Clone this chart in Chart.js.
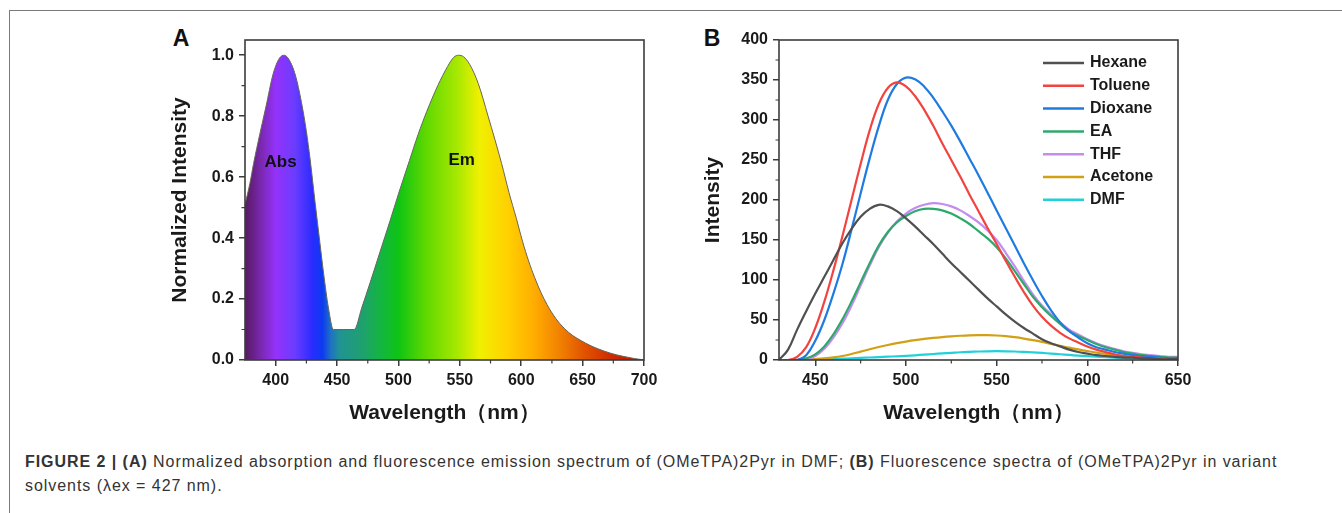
<!DOCTYPE html>
<html>
<head>
<meta charset="utf-8">
<script src="https://cdn.jsdelivr.net/npm/chart.js@4.4.0/dist/chart.umd.min.js"></script>
<style>
body{margin:0;background:#fff;width:1342px;height:513px;overflow:hidden;position:relative;font-family:"Liberation Sans",Arial,sans-serif}
.frameTop{position:absolute;left:9px;top:10px;right:0;height:0;border-top:1px solid #7a7a7a}
.frameLeft{position:absolute;left:9px;top:10px;bottom:0;width:0;border-left:1px solid #7a7a7a}
.panel{position:absolute;top:20px;width:520px;height:420px}
#boxA{left:150px}
#boxB{left:690px}
.letter{position:absolute;font:bold 23px "Liberation Sans",Arial,sans-serif;color:#111;transform:translate(-50%,-50%)}
.caption{position:absolute;left:25px;top:450px;font-size:16px;letter-spacing:0.95px;line-height:24px;color:#333;white-space:nowrap}
</style>
</head>
<body>
<div class="frameTop"></div>
<div class="frameLeft"></div>
<div class="letter" style="left:181px;top:38px">A</div>
<div class="letter" style="left:712px;top:38px">B</div>
<div class="panel" id="boxA"><canvas id="chartA" width="520" height="420"></canvas></div>
<div class="panel" id="boxB"><canvas id="chartB" width="520" height="420"></canvas></div>
<div class="caption"><b>FIGURE 2 | (A)</b> Normalized absorption and fluorescence emission spectrum of (OMeTPA)2Pyr in DMF; <b>(B)</b> Fluorescence spectra of (OMeTPA)2Pyr in variant<br>solvents (λex = 427 nm).</div>

<script>
//Datos panel A (absorcion + emision normalizadas)
const specWl = [375,379,382,387,392,398,403,407,411,416,421,425,428,432,436,439,443,447,455,464,470,477,485,493,500,509,516,523,532,540,545,549,553,558,565,573,584,590,596,601,606,611,616,621,628,635,642,649,656,663,673,683,692,700];
const specNorm = [0.51,0.58,0.645,0.74,0.83,0.94,0.99,1.0,0.985,0.935,0.845,0.75,0.66,0.52,0.385,0.285,0.17,0.10,0.10,0.10,0.17,0.255,0.355,0.455,0.545,0.655,0.74,0.815,0.90,0.963,0.993,1.0,0.995,0.97,0.907,0.80,0.645,0.55,0.465,0.39,0.325,0.27,0.222,0.182,0.137,0.104,0.08,0.063,0.048,0.036,0.022,0.012,0.005,0.0];
const bandNames = ['Abs', 'Em'];
const bandWl = [404, 551.5];
const bandY = [0.65, 0.655];
const xTicksA = [400,450,500,550,600,650,700];
const xMinorA = [425,475,525,575,625,675];
const yTicksA = [0,0.2,0.4,0.6,0.8,1.0];
const yMinorA = [0.1,0.3,0.5,0.7,0.9];

//Datos panel B (fluorescencia en solventes), cada 5 nm de 430 a 650
const solventes = ['Hexane','Toluene','Dioxane','EA','THF','Acetone','DMF'];
const flWl = [430,435,440,445,450,455,460,465,470,475,480,485,490,495,500,505,510,515,520,525,530,535,540,545,550,555,560,565,570,575,580,585,590,595,600,605,610,615,620,625,630,635,640,645,650];
const hexane  = [0,13,38,61,83, 104,125,146,164,179, 189,194,192,186,177, 167,156,145,133,121, 110,99,88,77,67, 57,48,40,33,26, 21,17,13,10,8, 6,5,4,3,3, 2,2,1,1,1];
const toluene = [0,0,4,16,40, 73,112,155,200,245, 287,320,340,347,342, 330,313,293,271,250, 229,207,186,165,145, 124,104,85,68,54, 43,34,27,22,17, 13,10,7,5,4, 3,2,2,1,1];
const dioxane = [0,0,0,6,24, 50,83,120,163,208, 252,292,325,345,353, 351,342,328,311,293, 273,252,231,209,187, 165,143,121,100,80, 62,47,36,28,21, 16,13,10,8,6, 5,4,3,2,2];
const ea      = [0,0,0,2,7, 17,32,51,73,97, 121,143,160,172,180, 186,189,189,187,183, 177,170,161,152,141, 127,111,95,79,66, 55,45,36,30,25, 20,16,13,10,8, 6,5,4,3,3];
const thf     = [0,0,0,1,5, 14,28,46,68,93, 118,141,159,173,183, 190,194,196,195,192, 187,180,172,162,150, 134,117,99,82,68, 57,47,38,32,26, 21,17,14,11,9, 7,6,5,4,4];
const acetone = [0,0,0.2,0.6,1.2, 2,3.2,5,7.5,10.5, 13.5,16.3,18.8,21,23, 24.8,26.3,27.6,28.7,29.6, 30.3,30.8,31,31,30.6, 29.8,28.5,26.8,24.8,22.6, 20.2,17.8,15.4,13.2,11.2, 9.3,7.6,6.1,4.8,3.8, 3,2.3,1.8,1.4,1.1];
const dmf     = [0,0,0,0.1,0.3, 0.7,1.1,1.6,2.1,2.6, 3.1,3.6,4.1,4.6,5.2, 5.9,6.7,7.5,8.3,9, 9.7,10.2,10.6,10.9,11, 10.9,10.6,10.1,9.5,8.8, 8,7.2,6.3,5.5,4.8, 4.1,3.5,3,2.5,2.1, 1.8,1.5,1.3,1.1,1];
const seriesB = [hexane, toluene, dioxane, ea, thf, acetone, dmf];
const coloresB = ['#505050','#f2433f','#1f7be0','#2fa86c','#c48cf0','#d2a015','#22d0da'];
const xTicksB = [450,500,550,600,650];
const xMinorB = [475,525,575,625];
const yTicksB = [0,50,100,150,200,250,300,350,400];
const yMinorB = [25,75,125,175,225,275,325,375];

//colores del espectro visible para el relleno
const spectrumStops = [[375,'#561a5e'],[388,'#7a28b0'],[400,'#9432fa'],[415,'#6d3cff'],[430,'#2a2cff'],[438,'#0d3af0'],[445,'#1f72c4'],[452,'#219393'],[470,'#1fa070'],[488,'#12b83a'],[500,'#0ec414'],[522,'#5ed800'],[548,'#a8e800'],[566,'#f0f000'],[588,'#ffd200'],[609,'#ffb000'],[631,'#f28200'],[652,'#e05200'],[674,'#d02a00'],[700,'#bd1000']];

Chart.defaults.font.family = '"Liberation Sans", Arial, sans-serif';
Chart.defaults.animation = false;
const tickFont = {size:16, weight:'bold'};
const titleFont = {size:21, weight:'bold'};
const ink = '#1a1a1a';
const axisCol = '#3c3c3c';

const toPoints = (xs, ys) => xs.map((x, i) => ({x: x, y: ys[i]}));

//caja del grafico y ticks menores
const marco = {
  id: 'marco',
  afterDraw(chart, args, opts) {
    const {ctx, chartArea: {left, top, right, bottom}} = chart;
    const sx = chart.scales.x, sy = chart.scales.y;
    ctx.save();
    ctx.strokeStyle = axisCol;
    ctx.lineWidth = 1.6;
    ctx.strokeRect(left, top, right - left, bottom - top);
    ctx.lineWidth = 1.2;
    ctx.beginPath();
    (opts.minorX || []).forEach(v => {
      const px = sx.getPixelForValue(v);
      ctx.moveTo(px, bottom); ctx.lineTo(px, bottom + 3.5);
    });
    (opts.minorY || []).forEach(v => {
      const py = sy.getPixelForValue(v);
      ctx.moveTo(left, py); ctx.lineTo(left - 3.5, py);
    });
    ctx.stroke();
    ctx.restore();
  }
};

//etiquetas Abs / Em
const etiquetas = {
  id: 'etiquetas',
  afterDatasetsDraw(chart) {
    const {ctx} = chart;
    ctx.save();
    ctx.font = 'bold 17px "Liberation Sans", Arial, sans-serif';
    ctx.fillStyle = '#111';
    ctx.textAlign = 'center';
    ctx.textBaseline = 'middle';
    bandNames.forEach((t, i) => {
      ctx.fillText(t, chart.scales.x.getPixelForValue(bandWl[i]), chart.scales.y.getPixelForValue(bandY[i]));
    });
    ctx.restore();
  }
};

//leyenda dentro del area
const leyenda = {
  id: 'leyenda',
  afterDraw(chart) {
    const {ctx, chartArea: {top, right}} = chart;
    ctx.save();
    ctx.font = 'bold 16px "Liberation Sans", Arial, sans-serif';
    ctx.textBaseline = 'middle';
    chart.data.datasets.forEach((ds, i) => {
      const y = top + 23 + i * 22.8;
      ctx.strokeStyle = ds.borderColor;
      ctx.lineWidth = 2.5;
      ctx.beginPath();
      ctx.moveTo(right - 135, y); ctx.lineTo(right - 94, y);
      ctx.stroke();
      ctx.fillStyle = ink;
      ctx.fillText(ds.label, right - 88, y);
    });
    ctx.restore();
  }
};

const espectro = (context) => {
  const chart = context.chart;
  const area = chart.chartArea;
  if (!area) return 'rgba(0,0,0,0)';
  const sx = chart.scales.x;
  const g = chart.ctx.createLinearGradient(area.left, 0, area.right, 0);
  spectrumStops.forEach(([nm, c]) => {
    const p = (sx.getPixelForValue(nm) - area.left) / (area.right - area.left);
    g.addColorStop(Math.min(1, Math.max(0, p)), c);
  });
  return g;
};

const ejeX = (min, max, ticks, titlePad) => ({
  type: 'linear', min: min, max: max,
  afterBuildTicks: s => { s.ticks = ticks.map(v => ({value: v})); },
  afterFit: s => { s.height = 80; },
  grid: {drawOnChartArea: false, tickLength: 6, color: axisCol, lineWidth: 1.5},
  border: {display: false},
  ticks: {color: ink, font: tickFont, padding: 5, maxRotation: 0, autoSkip: false},
  title: {display: true, text: 'Wavelength（nm）', color: ink, font: titleFont, padding: {top: 0, bottom: titlePad}}
});

const ejeY = (min, max, ticks, width, text, titlePad, fmt) => ({
  min: min, max: max,
  afterBuildTicks: s => { s.ticks = ticks.map(v => ({value: v})); },
  afterFit: s => { s.width = width; },
  grid: {drawOnChartArea: false, tickLength: 6, color: axisCol, lineWidth: 1.5},
  border: {display: false},
  ticks: {color: ink, font: tickFont, padding: 5, autoSkip: false, callback: fmt},
  title: {display: true, text: text, color: ink, font: titleFont, padding: {top: titlePad, bottom: 0}}
});

//Panel A
new Chart(document.getElementById('chartA'), {
  type: 'line',
  data: {
    datasets: [{
      data: toPoints(specWl, specNorm),
      borderColor: '#66665a',
      borderWidth: 1,
      backgroundColor: espectro,
      fill: 'origin',
      pointRadius: 0,
      cubicInterpolationMode: 'monotone'
    }]
  },
  options: {
    responsive: false,
    layout: {padding: {left: 0, top: 20, right: 26, bottom: 0}},
    plugins: {legend: {display: false}, tooltip: {enabled: false}, marco: {minorX: xMinorA, minorY: yMinorA}},
    scales: {
      x: ejeX(375, 700, xTicksA, 14),
      y: ejeY(0, 1.05, yTicksA, 95, 'Normalized Intensity', 18, v => v.toFixed(1))
    }
  },
  plugins: [marco, etiquetas]
});

//Panel B
new Chart(document.getElementById('chartB'), {
  type: 'line',
  data: {
    datasets: solventes.map((s, i) => ({
      label: s,
      data: toPoints(flWl, seriesB[i]),
      borderColor: coloresB[i],
      borderWidth: 2.2,
      pointRadius: 0,
      fill: false,
      tension: 0.4
    }))
  },
  options: {
    responsive: false,
    layout: {padding: {left: 0, top: 20, right: 32, bottom: 0}},
    plugins: {legend: {display: false}, tooltip: {enabled: false}, marco: {minorX: xMinorB, minorY: yMinorB}},
    scales: {
      x: ejeX(430, 650, xTicksB, 14),
      y: ejeY(0, 400, yTicksB, 89, 'Intensity', 11, v => v)
    }
  },
  plugins: [marco, leyenda]
});
</script>
</body>
</html>
